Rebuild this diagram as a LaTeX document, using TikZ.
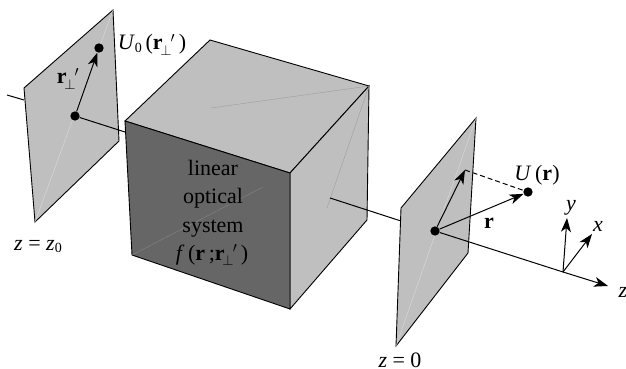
\documentclass[tikz,border=0pt]{standalone}
\usepackage{fontspec}
\setmainfont{Liberation Serif}
\usetikzlibrary{arrows.meta}
\definecolor{planegray}{gray}{0.75}
\definecolor{frontgray}{gray}{0.40}
\definecolor{creasewhite}{gray}{0.86}
\definecolor{creasetop}{gray}{0.62}
\definecolor{creasefront}{gray}{0.52}
\tikzset{
  face/.style={draw=black,line width=0.9pt,line join=miter},
  ax/.style={draw=black,line width=1pt},
  arr/.style={draw=black,line width=1pt,-{Stealth[length=14pt,width=10pt,inset=4pt]}},
  dotn/.style={circle,fill=black,inner sep=0pt,minimum size=9.3pt},
  lab/.style={inner sep=0pt,anchor=base,font=\fontsize{22}{24}\selectfont,text=black},
  crease/.style={line width=0.4pt}
}
\newcommand{\rpp}{\textbf{r}$_{\!\perp}^{\hspace{8pt}\prime}$}
\newcommand{\ii}[1]{\textit{#1}}
\begin{document}
\begin{tikzpicture}[x=1pt,y=-1pt]
\useasboundingbox (0,0) rectangle (626,369);
\fill[white] (0,0) rectangle (626,369);
% coordinates
\coordinate (axL) at (7,95);
\coordinate (axLP) at (24,100);
\coordinate (axC) at (125,132);
\coordinate (axR) at (330,198);
\coordinate (axP) at (401,221);
\coordinate (axZ) at (608,286);
% left plane
\draw[ax] (axL) -- (axLP);
\filldraw[face,fill=planegray] (24,88) -- (113,10) -- (119,141) -- (35,222) -- cycle;
\draw[creasewhite,crease] (35,222) -- (113,10);
\node[dotn] (oL) at (75,116) {};
\node[dotn] (pL) at (99,48) {};
\draw[ax] (oL) -- (axC);
\draw[arr] (oL) -- (pL);
% cube
\filldraw[face,fill=planegray] (125,121) -- (210,40) -- (369,86) -- (290,173) -- cycle;
\filldraw[face,fill=planegray] (290,173) -- (369,86) -- (367,220) -- (290,309) -- cycle;
\filldraw[face,fill=frontgray] (125,121) -- (290,173) -- (290,309) -- (132,255) -- cycle;
\draw[creasetop,crease] (211,108) -- (369,86) -- (327,208);
\draw[creasefront,crease] (132,255) -- (263,187);
\draw[ax] (axR) -- (axP);
% right plane
\filldraw[face,fill=planegray] (401,208) -- (476,118) -- (468,253) -- (396,346) -- cycle;
\draw[creasewhite,crease] (396,346) -- (476,118);
\node[dotn] (oR) at (435,231) {};
\node[dotn] (pR) at (528,192) {};
\coordinate (tipR) at (465,170);
\coordinate (orig) at (563,272);
\coordinate (yT) at (567,218);
\coordinate (xT) at (592,234);
\draw[ax] (oR) -- (orig);
\draw[arr] (orig) -- (axZ);
\draw[arr] (oR) -- (tipR);
\draw[arr] (oR) -- (pR);
\draw[ax,dash pattern=on 5pt off 3pt] (tipR) -- (pR);
\draw[arr] (orig) -- (yT);
\draw[arr] (orig) -- (xT);
% labels
\node[lab] (u0) at (152,50) {\ii{U}\raisebox{-2pt}{\fontsize{14}{14}\selectfont 0}\,(\rpp\,)};
\node[lab] (rl) at (68,84) {\rpp};
\node[lab] (z0) at (38,250) {\ii{z} = \ii{z}\raisebox{-2pt}{\fontsize{14}{14}\selectfont 0}};
\node[lab] (z00) at (400,367) {\ii{z} = 0};
\node[lab] (ur) at (537,180) {\ii{U}\,(\textbf{r})};
\node[lab] (rr) at (489,228) {\textbf{r}};
\node[lab] (ly) at (571,210) {\ii{y}};
\node[lab] (lx) at (598,231) {\ii{x}};
\node[lab] (lz) at (623,297) {\ii{z}};
\node[lab] (t1) at (213,175) {linear};
\node[lab] (t2) at (213,203) {optical};
\node[lab] (t3) at (213,232) {system};
\node[lab] (t4) at (212,260) {\ii{f}\,(\textbf{r}\,;\rpp\,)};
\end{tikzpicture}
\end{document}
